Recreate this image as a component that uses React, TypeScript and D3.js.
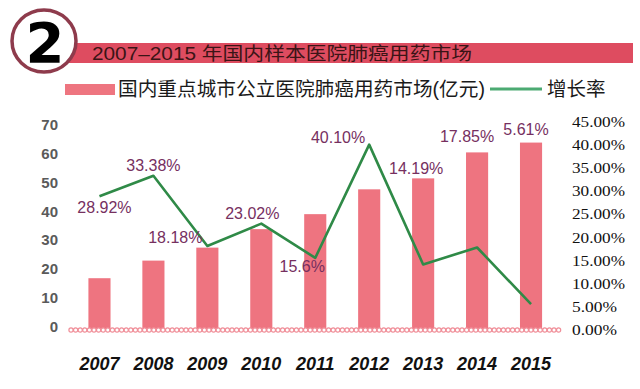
import React from "react";
import * as d3 from "d3";

const years = ["2007", "2008", "2009", "2010", "2011", "2012", "2013", "2014", "2015"];
const marketValues = [17.6, 23.7, 28.2, 34.6, 39.8, 48.4, 52.2, 61.2, 64.6];
const growthRates = [28.92, 33.38, 18.18, 23.02, 15.6, 40.1, 14.19, 17.85, 5.61];
const growthLabels = ["28.92%", "33.38%", "18.18%", "23.02%", "15.6%", "40.10%", "14.19%", "17.85%", "5.61%"];
const leftTicks = [0, 10, 20, 30, 40, 50, 60, 70];
const rightTicks = [0, 5, 10, 15, 20, 25, 30, 35, 40, 45];
const titleText = "2007–2015 年国内样本医院肺癌用药市场";
const legendBar = "国内重点城市公立医院肺癌用药市场(亿元)";
const legendLine = "增长率";

// label placement offsets relative to each line point: [dx, dy, anchor]
const labelOffsets: [number, number, string][] = [
  [5, 17, "middle"],
  [0, -5, "middle"],
  [-32, -3, "middle"],
  [-9, -5, "middle"],
  [-13, 14, "middle"],
  [-4, -2, "end"],
  [-7, -90, "middle"],
  [-10, -105, "middle"],
  [-5, -169, "middle"],
];

const W = 640;
const H = 389;

export default function App() {
  const x = d3
    .scaleBand<string>()
    .domain(years)
    .range([72.5, 558])
    .paddingInner(0.59)
    .paddingOuter(0.295);
  const yL = d3.scaleLinear().domain([0, 70]).range([329, 127]);
  const yR = d3.scaleLinear().domain([0, 45]).range([330, 122]);
  const cx = (yr: string) => (x(yr) as number) + x.bandwidth() / 2;

  const line = d3
    .line<number>()
    .x((_, i) => cx(years[i]))
    .y((d) => yR(d));

  const dots = d3.range(71, 560, 4.6);

  return (
    <svg
      width={W}
      height={H}
      style={{ position: "absolute", left: 0, top: 0, background: "#fff" }}
      fontFamily="'Liberation Sans', 'Noto Sans CJK SC', sans-serif"
    >
      <rect width={W} height={H} fill="#fff" />
      {/* title bar */}
      <rect x={60} y={43} width={573} height={20} fill="#de4c60" />
      <text
        x={92}
        y={60}
        fontSize={18}
        fill="#3b1416"
        textLength={380}
        lengthAdjust="spacingAndGlyphs"
      >
        {titleText}
      </text>
      <ellipse cx={44} cy={41} rx={32} ry={31} fill="#fff" stroke="#8e3b4c" strokeWidth={3.5} />
      <text
        x={45}
        y={62}
        fontSize={56}
        fontWeight={900}
        fontFamily="'DejaVu Sans', sans-serif"
        textAnchor="middle"
        fill="#000"
      >
        2
      </text>

      {/* legend */}
      <rect x={65} y={84} width={50} height={11} fill="#ee7580" />
      <text
        x={118}
        y={96}
        fontSize={19.5}
        fill="#1a1a1a"
        textLength={367}
        lengthAdjust="spacingAndGlyphs"
      >
        {legendBar}
      </text>
      <line x1={490} x2={542} y1={89} y2={89} stroke="#4caa72" strokeWidth={3} />
      <text x={547} y={96} fontSize={19.5} fill="#1a1a1a">
        {legendLine}
      </text>

      {/* left axis labels */}
      {leftTicks.map((t) => (
        <text
          key={"l" + t}
          x={58}
          y={yL(t) + 3}
          fontSize={15}
          fontWeight="bold"
          fill="#5a5a5a"
          textAnchor="end"
        >
          {t}
        </text>
      ))}

      {/* right axis labels */}
      {rightTicks.map((t) => (
        <text
          key={"r" + t}
          x={572}
          y={yR(t) + 5}
          fontSize={14}
          fontFamily="'Liberation Serif', serif"
          fill="#111"
          textLength={t >= 10 ? 53 : 45}
          lengthAdjust="spacingAndGlyphs"
        >
          {t.toFixed(2) + "%"}
        </text>
      ))}

      {/* bars */}
      {years.map((yr, i) => (
        <rect
          key={"b" + yr}
          x={x(yr)}
          y={yL(marketValues[i])}
          width={x.bandwidth()}
          height={yL(0) - yL(marketValues[i])}
          fill="#ee7480"
        />
      ))}

      {/* baseline chain */}
      {dots.map((d, i) => (
        <circle key={"d" + i} cx={d} cy={330} r={2.1} fill="#fff" stroke="#f08f99" strokeWidth={1.2} />
      ))}

      {/* growth line */}
      <path d={line(growthRates) || ""} fill="none" stroke="#2f8a47" strokeWidth={2.6} strokeLinejoin="round" />

      {/* data labels */}
      {years.map((yr, i) => {
        const [dx, dy, anchor] = labelOffsets[i];
        return (
          <text
            key={"g" + yr}
            x={cx(yr) + dx}
            y={yR(growthRates[i]) + dy}
            fontSize={16}
            fill="#76305f"
            textAnchor={anchor as any}
          >
            {growthLabels[i]}
          </text>
        );
      })}

      {/* year labels */}
      {years.map((yr) => (
        <text
          key={"y" + yr}
          x={cx(yr)}
          y={370}
          fontSize={18}
          fontWeight="bold"
          fontStyle="italic"
          fill="#111"
          textAnchor="middle"
        >
          {yr}
        </text>
      ))}
    </svg>
  );
}
